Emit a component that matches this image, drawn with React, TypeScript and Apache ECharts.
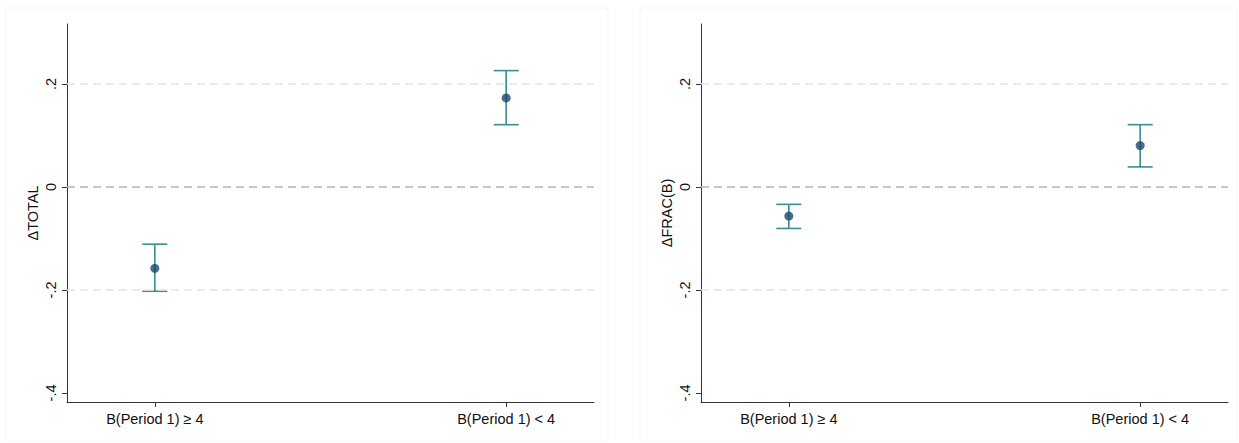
import React, { useEffect, useRef } from "react";
import * as echarts from "echarts";

const categories = ["B(Period 1) ≥ 4", "B(Period 1) < 4"];
const categoryPositions = [1, 2];

const totalEstimate = [-0.158, 0.173];
const totalLower = [-0.2025, 0.121];
const totalUpper = [-0.111, 0.226];

const fracEstimate = [-0.0565, 0.0804];
const fracLower = [-0.0805, 0.039];
const fracUpper = [-0.0337, 0.121];

const yTicks = [-0.4, -0.2, 0, 0.2];
const refLines = [0.2, 0, -0.2];
const yTitles = ["ΔTOTAL", "ΔFRAC(B)"];

const FONT = "Liberation Sans, Arial, sans-serif";
const DOT = "#1a476f";
const BAR = "#3a8e8e";

function fmt(v: number): string {
  if (Math.abs(v) < 1e-9) return "0";
  const s = String(Math.round(v * 10) / 10);
  return s.replace("0.", ".");
}

export default function App() {
  const ref = useRef<HTMLDivElement>(null);
  useEffect(() => {
    if (!ref.current) return;
    const chart = echarts.init(ref.current, null, { renderer: "svg" });
    const panels = [
      { est: totalEstimate, lo: totalLower, hi: totalUpper },
      { est: fracEstimate, lo: fracLower, hi: fracUpper },
    ];
    const grids = [
      { left: 67, top: 24, width: 527, height: 378 },
      { left: 701, top: 24, width: 527, height: 378 },
    ];
    const xAxes = grids.map((_, i) => ({
      type: "value",
      gridIndex: i,
      min: 0.75,
      max: 2.25,
      axisLine: { show: true, onZero: false, lineStyle: { color: "#333", width: 1 } },
      axisTick: { show: true, length: 5, customValues: categoryPositions, lineStyle: { color: "#333" } },
      axisLabel: {
        show: true,
        customValues: categoryPositions,
        formatter: (v: number) => categories[Math.round(v) - 1] ?? "",
        color: "#111",
        fontFamily: FONT,
        fontSize: 14.5,
        margin: 9,
      },
      splitLine: { show: false },
    }));
    const yAxes = grids.map((_, i) => ({
      type: "value",
      gridIndex: i,
      min: -0.4175,
      max: 0.3165,
      name: yTitles[i],
      nameLocation: "middle",
      nameGap: 27,
      nameTextStyle: { color: "#111", fontFamily: FONT, fontSize: 14.5 },
      axisLine: { show: true, onZero: false, lineStyle: { color: "#333", width: 1 } },
      axisTick: { show: true, length: 5, customValues: yTicks, lineStyle: { color: "#333" } },
      axisLabel: {
        show: true,
        customValues: yTicks,
        formatter: (v: number) => fmt(v),
        rotate: 90,
        color: "#111",
        fontFamily: FONT,
        fontSize: 14.5,
        margin: 9,
      },
      splitLine: { show: false },
    }));
    const series: any[] = [];
    panels.forEach((p, i) => {
      series.push({
        type: "custom",
        xAxisIndex: i,
        yAxisIndex: i,
        data: categoryPositions.map((x, k) => [x, p.lo[k], p.hi[k]]),
        renderItem: (params: any, api: any) => {
          const x = api.value(0);
          const lo = api.coord([x, api.value(1)]);
          const hi = api.coord([x, api.value(2)]);
          const hw = 12.5;
          const st = { stroke: BAR, lineWidth: 1.6 };
          return {
            type: "group",
            children: [
              { type: "line", shape: { x1: lo[0], y1: lo[1], x2: hi[0], y2: hi[1] }, style: st },
              { type: "line", shape: { x1: lo[0] - hw, y1: lo[1], x2: lo[0] + hw, y2: lo[1] }, style: st },
              { type: "line", shape: { x1: hi[0] - hw, y1: hi[1], x2: hi[0] + hw, y2: hi[1] }, style: st },
            ],
          };
        },
        z: 3,
      });
      series.push({
        type: "scatter",
        xAxisIndex: i,
        yAxisIndex: i,
        data: categoryPositions.map((x, k) => [x, p.est[k]]),
        symbol: "circle",
        symbolSize: 9,
        itemStyle: { color: DOT },
        z: 4,
        markLine: {
          silent: true,
          symbol: "none",
          label: { show: false },
          data: refLines.map((v) => ({
            yAxis: v,
            lineStyle: {
              color: v === 0 ? "#b4b4b4" : "#e4e4e4",
              width: 1.5,
              type: [8, 5],
            },
          })),
        },
      });
    });
    chart.setOption({
      animation: false,
      backgroundColor: "#ffffff",
      graphic: [
        { type: "rect", shape: { x: 6, y: 8, width: 602, height: 433 }, style: { fill: "none", stroke: "#f5f5f5", lineWidth: 1 }, silent: true },
        { type: "rect", shape: { x: 640, y: 8, width: 597, height: 433 }, style: { fill: "none", stroke: "#f5f5f5", lineWidth: 1 }, silent: true },
      ],
      grid: grids,
      xAxis: xAxes,
      yAxis: yAxes,
      series,
    });
    return () => chart.dispose();
  }, []);
  return (
    <div
      ref={ref}
      style={{ position: "fixed", left: 0, top: 0, width: 1239, height: 443, background: "#fff" }}
    />
  );
}
